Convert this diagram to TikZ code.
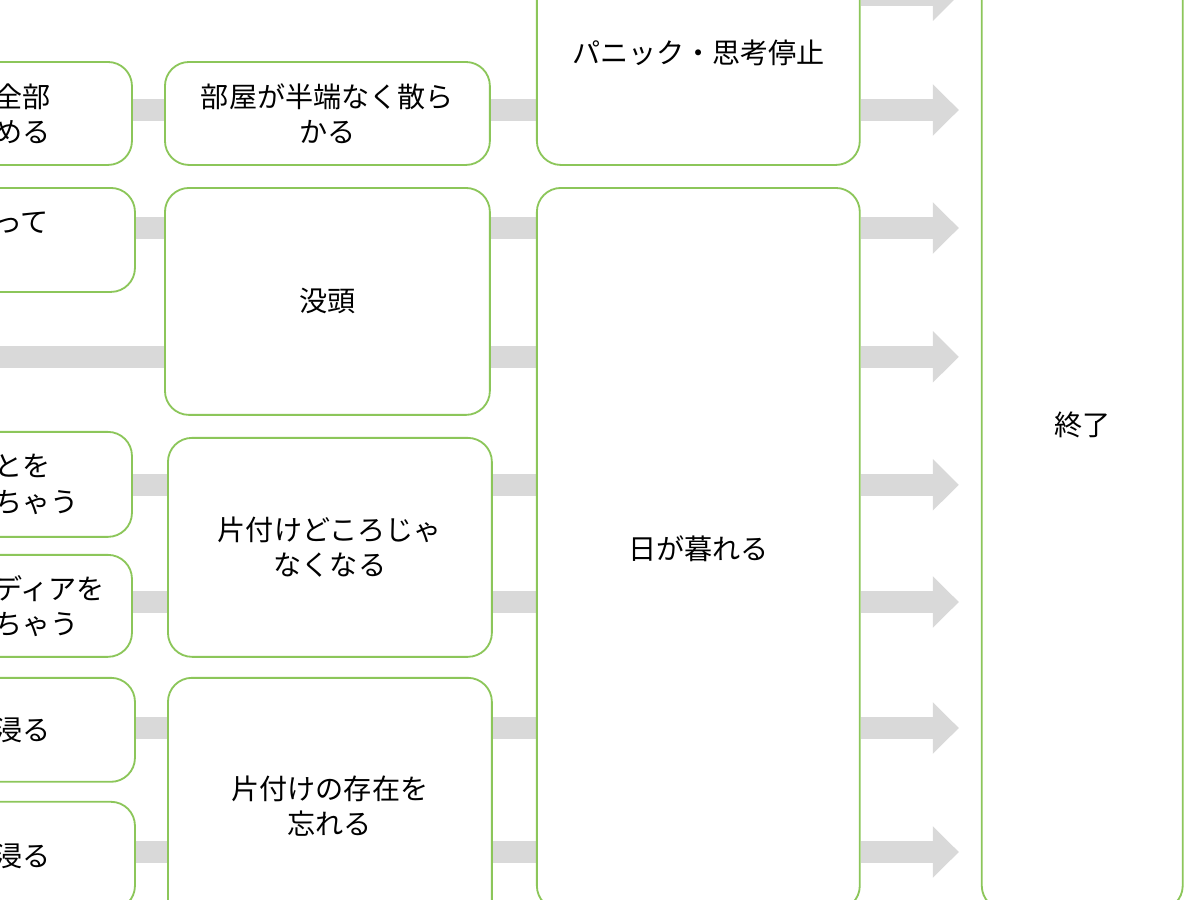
\documentclass[tikz,border=0pt]{standalone}
\usepackage{fontspec}
\setmainfont{Noto Sans CJK JP}
\usetikzlibrary{arrows.meta,backgrounds}
\definecolor{bd}{HTML}{8CC65A}
\definecolor{ar}{HTML}{D9D9D9}
\newcommand\mkbox[6]{%
 \pgfmathsetmacro\cx{(#2+#4)/2*0.025}\pgfmathsetmacro\cy{-(#3+#5)/2*0.025}%
 \pgfmathsetmacro\ww{(#4-#2)*0.025}\pgfmathsetmacro\hh{(#5-#3)*0.025}%
 \node[box,minimum width=\ww cm,minimum height=\hh cm] (#1) at (\cx,\cy) {#6};}
\newcommand\mkleft[5]{%
 \pgfmathsetmacro\cx{(-40+#3)/2*0.025}\pgfmathsetmacro\cy{-(#2+#4)/2*0.025}%
 \pgfmathsetmacro\ww{(#3+40)*0.025}\pgfmathsetmacro\hh{(#4-#2)*0.025}%
 \node[box,minimum width=\ww cm,minimum height=\hh cm,text width=\ww cm-1.7cm,align=left,inner xsep=0.85cm] (#1) at (\cx,\cy) {#5};}
\tikzset{
 box/.style={draw=bd,line width=1.3pt,rounded corners=0.6cm,fill=white,align=center,font=\fontsize{20}{25}\selectfont,inner sep=0pt},
 conn/.style={draw=ar,line width=0.55cm},
 arr/.style={conn,-{Triangle[length=0.65cm,width=1.25cm]},shorten >=0.55cm},
}
\begin{document}
\begin{tikzpicture}
\useasboundingbox (0,0) rectangle (30,-22.5);
\mkleft{a1}{62}{132}{165}{全部\\める}
\mkleft{a2}{188}{135}{292}{って\\~}
\mkleft{a3}{432}{132}{537}{とを\\ちゃう}
\mkleft{a4}{555}{132}{657}{ディアを\\ちゃう}
\mkleft{a5}{678}{135}{782}{浸る}
\mkleft{a6}{802}{135}{910}{浸る}
\mkbox{b1}{165}{62}{490}{165}{部屋が半端なく散ら\\かる}
\mkbox{b2}{165}{188}{490}{415}{没頭}
\mkbox{b3}{168}{438}{492}{657}{片付けどころじゃ\\なくなる}
\mkbox{b4}{168}{678}{492}{935}{片付けの存在を\\忘れる}
\mkbox{c1}{537}{-60}{860}{165}{パニック・思考停止}
\mkbox{c2}{537}{188}{860}{910}{日が暮れる}
\mkbox{e}{982}{-60}{1183}{910}{終了}
\coordinate (r0) at (0,0.12);
\coordinate (r1) at (0,-2.75);
\coordinate (r2) at (0,-5.7);
\coordinate (r3) at (0,-8.92);
\coordinate (r4) at (0,-12.12);
\coordinate (r5) at (0,-15.05);
\coordinate (r6) at (0,-18.2);
\coordinate (r7) at (0,-21.3);
\coordinate (free) at (-0.3,-8.92);
\begin{pgfonlayer}{background}
\draw[conn] (a1.east|-r1) -- (b1.west|-r1);
\draw[conn] (a2.east|-r2) -- (b2.west|-r2);
\draw[conn] (free) -- (b2.west|-r3);
\draw[conn] (a3.east|-r4) -- (b3.west|-r4);
\draw[conn] (a4.east|-r5) -- (b3.west|-r5);
\draw[conn] (a5.east|-r6) -- (b4.west|-r6);
\draw[conn] (a6.east|-r7) -- (b4.west|-r7);
\draw[conn] (b1.east|-r1) -- (c1.west|-r1);
\draw[conn] (b2.east|-r2) -- (c2.west|-r2);
\draw[conn] (b2.east|-r3) -- (c2.west|-r3);
\draw[conn] (b3.east|-r4) -- (c2.west|-r4);
\draw[conn] (b3.east|-r5) -- (c2.west|-r5);
\draw[conn] (b4.east|-r6) -- (c2.west|-r6);
\draw[conn] (b4.east|-r7) -- (c2.west|-r7);
\draw[arr] (c1.east|-r0) -- (e.west|-r0);
\draw[arr] (c1.east|-r1) -- (e.west|-r1);
\draw[arr] (c2.east|-r2) -- (e.west|-r2);
\draw[arr] (c2.east|-r3) -- (e.west|-r3);
\draw[arr] (c2.east|-r4) -- (e.west|-r4);
\draw[arr] (c2.east|-r5) -- (e.west|-r5);
\draw[arr] (c2.east|-r6) -- (e.west|-r6);
\draw[arr] (c2.east|-r7) -- (e.west|-r7);
\end{pgfonlayer}
\end{tikzpicture}
\end{document}
